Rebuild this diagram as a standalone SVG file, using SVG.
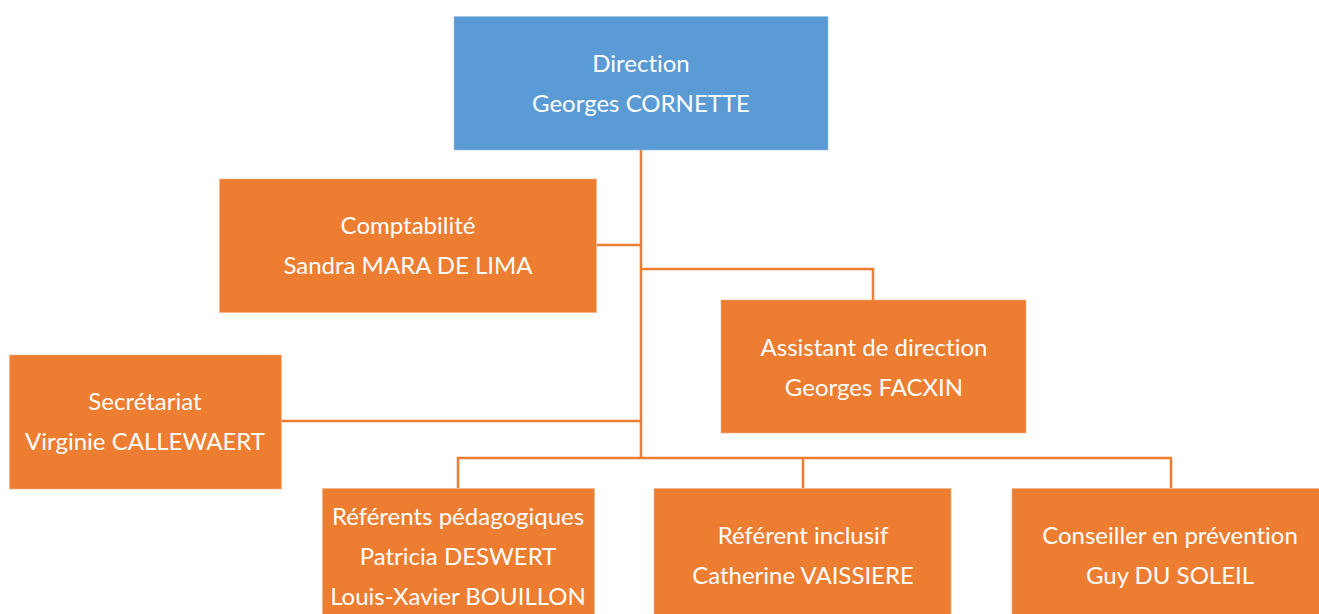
<svg xmlns="http://www.w3.org/2000/svg" width="1319" height="614" viewBox="0 0 1319 614">
<style>
.box{stroke:#f4b183;stroke-opacity:0.6;stroke-width:1}
.blue{fill:#5b9bd5;stroke:#9dc3e6}
.orange{fill:#ed7d31}
.t{font-family:Lato,"Liberation Sans",Arial,sans-serif;font-size:24px;fill:#ffffff;text-anchor:middle;font-variant-ligatures:none}
.conn{fill:none;stroke:#ed7d31;stroke-width:2.5}
</style>
<rect width="1319" height="614" fill="#ffffff"/>
<g id="connectors">
<path class="conn" d="M641 150 V458"/>
<path class="conn" d="M597 245 H641"/>
<path class="conn" d="M641 269 H873 V300"/>
<path class="conn" d="M281 421 H641"/>
<path class="conn" d="M458 488 V458 H1171 V488"/>
<path class="conn" d="M803 458 V488"/>
</g>
<g id="direction">
<rect class="box blue" x="454" y="16.5" width="374" height="133.5"/>
<text class="t" x="641" y="72">Direction</text>
<text class="t" x="641" y="112">Georges CORNETTE</text>
</g>
<g id="comptabilite">
<rect class="box orange" x="219.5" y="179" width="377" height="133.5"/>
<text class="t" x="408" y="234">Comptabilité</text>
<text class="t" x="408" y="274">Sandra MARA DE LIMA</text>
</g>
<g id="assistant">
<rect class="box orange" x="721" y="300" width="305" height="133"/>
<text class="t" x="874" y="356">Assistant de direction</text>
<text class="t" x="874" y="396">Georges FACXIN</text>
</g>
<g id="secretariat">
<rect class="box orange" x="9.5" y="355" width="272" height="134"/>
<text class="t" x="145" y="410">Secrétariat</text>
<text class="t" x="145" y="450">Virginie CALLEWAERT</text>
</g>
<g id="referents">
<rect class="box orange" x="322.5" y="488.5" width="272" height="130"/>
<text class="t" x="458" y="525">Référents pédagogiques</text>
<text class="t" x="458" y="565">Patricia DESWERT</text>
<text class="t" x="458" y="605">Louis-Xavier BOUILLON</text>
</g>
<g id="inclusif">
<rect class="box orange" x="654" y="488.5" width="297" height="130"/>
<text class="t" x="803" y="544">Référent inclusif</text>
<text class="t" x="803" y="584">Catherine VAISSIERE</text>
</g>
<g id="conseiller">
<rect class="box orange" x="1012" y="488.5" width="320" height="130"/>
<text class="t" x="1170" y="544">Conseiller en prévention</text>
<text class="t" x="1170" y="584">Guy DU SOLEIL</text>
</g>
</svg>
